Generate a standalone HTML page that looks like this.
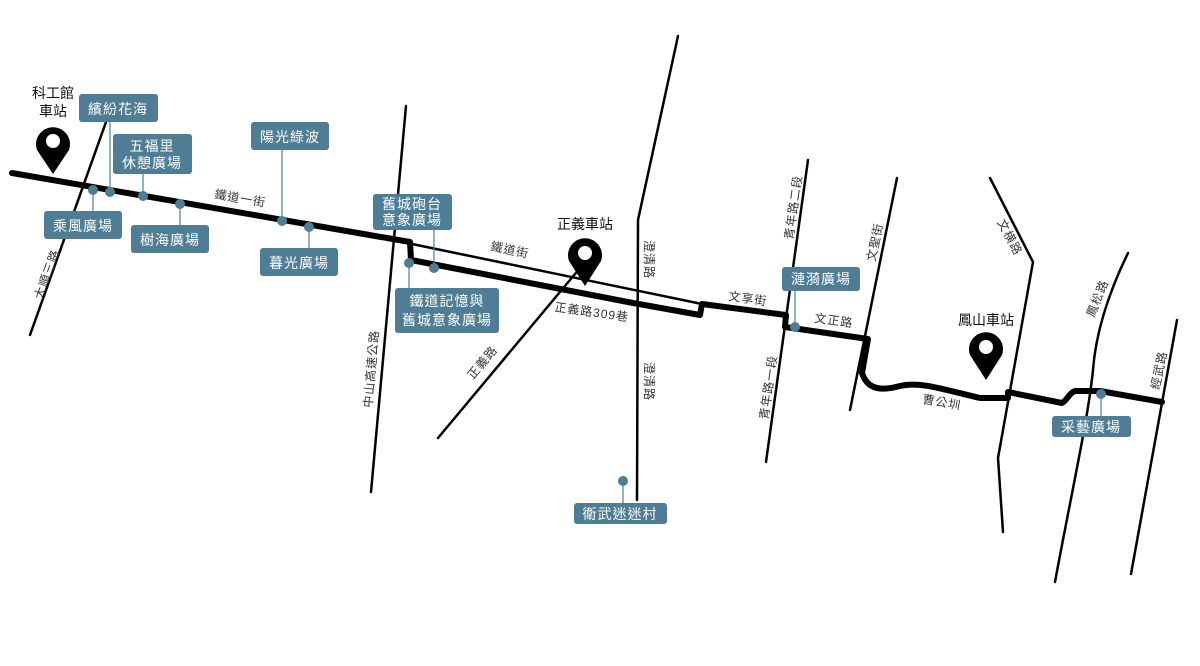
<!DOCTYPE html>
<html><head><meta charset="utf-8"><style>
html,body{margin:0;padding:0;background:#fff}
svg{display:block}
text{font-family:"Liberation Sans","Noto Sans CJK TC",sans-serif}
.r{font-size:12px;fill:#333;letter-spacing:1px}
.b{font-size:14px;fill:#fff;text-anchor:middle;letter-spacing:1px}
.s{font-size:14px;fill:#111;text-anchor:middle}
</style></head><body>
<svg width="1200" height="666" viewBox="0 0 1200 666" xmlns="http://www.w3.org/2000/svg">
<g fill="none" stroke="#000" stroke-width="2.5" stroke-linecap="round">
<line x1="30" y1="335" x2="106" y2="122"/>
<line x1="406" y1="106" x2="371" y2="492"/>
<line x1="438" y1="438" x2="585" y2="262"/>
<polyline points="678,36 638,220 637,500"/>
<line x1="808" y1="160" x2="766" y2="462"/>
<line x1="897" y1="178" x2="850" y2="410"/>
<polyline points="990,178 1033,262 998,458 1003,532"/>
<path d="M1128,253 C1110,290 1096,330 1093,370 C1088,420 1070,500 1055,582"/>
<line x1="1177" y1="320" x2="1131" y2="574"/>
<line x1="412" y1="244" x2="702" y2="304"/>
</g>
<g fill="none" stroke="#000" stroke-width="6" stroke-linejoin="round" stroke-linecap="round">
<polyline points="12,173 410,242 411,260 633,303 700,315 702,304 786,315 785,327 868,339 862,373"/>
<path d="M862,373 C868,392 885,390 900,386 C920,381 945,390 980,398 L1008,398 L1008,392 L1062,403 C1068,400 1070,390 1078,391 L1100,391 L1162,402"/>
</g>
<g class="r">
<text transform="translate(42,300) rotate(-70)">大順三路</text>
<text transform="translate(372,408) rotate(-85)">中山高速公路</text>
<text transform="translate(473,380) rotate(-50)">正義路</text>
<text transform="translate(645,240) rotate(90)">澄清路</text>
<text transform="translate(645,362) rotate(90)">澄清路</text>
<text transform="translate(793,240) rotate(-82)">青年路二段</text>
<text transform="translate(768,420) rotate(-82)">青年路一段</text>
<text transform="translate(875,262) rotate(-78)">文聖街</text>
<text transform="translate(997,222) rotate(62)">文横路</text>
<text transform="translate(1094,318) rotate(-68)">鳳松路</text>
<text transform="translate(1159,390) rotate(-78)">經武路</text>
<text transform="translate(214,198) rotate(10)">鐵道一街</text>
<text transform="translate(490,250) rotate(12)">鐵道街</text>
<text transform="translate(554,311) rotate(8)">正義路309巷</text>
<text transform="translate(728,300) rotate(8)">文享街</text>
<text transform="translate(814,322) rotate(8)">文正路</text>
<text transform="translate(922,403) rotate(10)">曹公圳</text>
</g>
<g stroke="#4f7d96" stroke-width="1.2">
<line x1="110" y1="122" x2="110" y2="192"/>
<line x1="143" y1="174" x2="143" y2="196"/>
<line x1="93" y1="190" x2="93" y2="211"/>
<line x1="180" y1="204" x2="180" y2="225"/>
<line x1="282" y1="150" x2="282" y2="221"/>
<line x1="309" y1="227" x2="309" y2="248"/>
<line x1="434" y1="230" x2="434" y2="268"/>
<line x1="409" y1="263" x2="409" y2="288"/>
<line x1="795" y1="291" x2="795" y2="327"/>
<line x1="623" y1="481" x2="623" y2="503"/>
<line x1="1101" y1="394" x2="1101" y2="416"/>
</g>
<g fill="#4f7d96">
<circle cx="93" cy="190" r="5"/><circle cx="110" cy="192" r="5"/><circle cx="143" cy="196" r="5"/><circle cx="180" cy="204" r="5"/>
<circle cx="282" cy="221" r="5"/><circle cx="309" cy="227" r="5"/><circle cx="409" cy="263" r="5"/><circle cx="434" cy="268" r="5"/>
<circle cx="795" cy="327" r="5"/><circle cx="623" cy="481" r="5"/><circle cx="1101" cy="394" r="5"/>
<rect x="79" y="94" width="79" height="28" rx="3"/>
<rect x="113" y="134" width="79" height="40" rx="3"/>
<rect x="44" y="211" width="78" height="28" rx="3"/>
<rect x="131" y="225" width="78" height="28" rx="3"/>
<rect x="251" y="122" width="78" height="28" rx="3"/>
<rect x="260" y="248" width="78" height="28" rx="3"/>
<rect x="373" y="194" width="79" height="36" rx="3"/>
<rect x="395" y="288" width="104" height="45" rx="3"/>
<rect x="782" y="267" width="78" height="24" rx="3"/>
<rect x="574" y="503" width="93" height="21" rx="3"/>
<rect x="1052" y="416" width="79" height="21" rx="3"/>
</g>
<g class="b">
<text x="118" y="114">繽紛花海</text>
<text x="152" y="151">五福里</text><text x="152" y="168">休憩廣場</text>
<text x="83" y="231">乘風廣場</text>
<text x="170" y="245">樹海廣場</text>
<text x="290" y="142">陽光綠波</text>
<text x="299" y="268">暮光廣場</text>
<text x="412" y="209">舊城砲台</text><text x="412" y="225">意象廣場</text>
<text x="447" y="306">鐵道記憶與</text><text x="447" y="325">舊城意象廣場</text>
<text x="821" y="284">漣漪廣場</text>
<text x="620" y="519">衛武迷迷村</text>
<text x="1091" y="432">采藝廣場</text>
</g>
<g class="s">
<text x="53" y="98">科工館</text><text x="53" y="116">車站</text>
<text x="585" y="229">正義車站</text>
<text x="986" y="325">鳳山車站</text>
</g>
<g fill="#000">
<path d="M37,150 A17,17 0 1,1 69,150 L53,174 Z"/>
<path d="M569,261 A17,17 0 1,1 601,261 L585,286 Z"/>
<path d="M970,355 A17,17 0 1,1 1002,355 L986,380 Z"/>
</g>
<g fill="#fff">
<circle cx="53" cy="141" r="7"/><circle cx="585" cy="253" r="7"/><circle cx="986" cy="347" r="7"/>
</g>
</svg>
</body></html>
